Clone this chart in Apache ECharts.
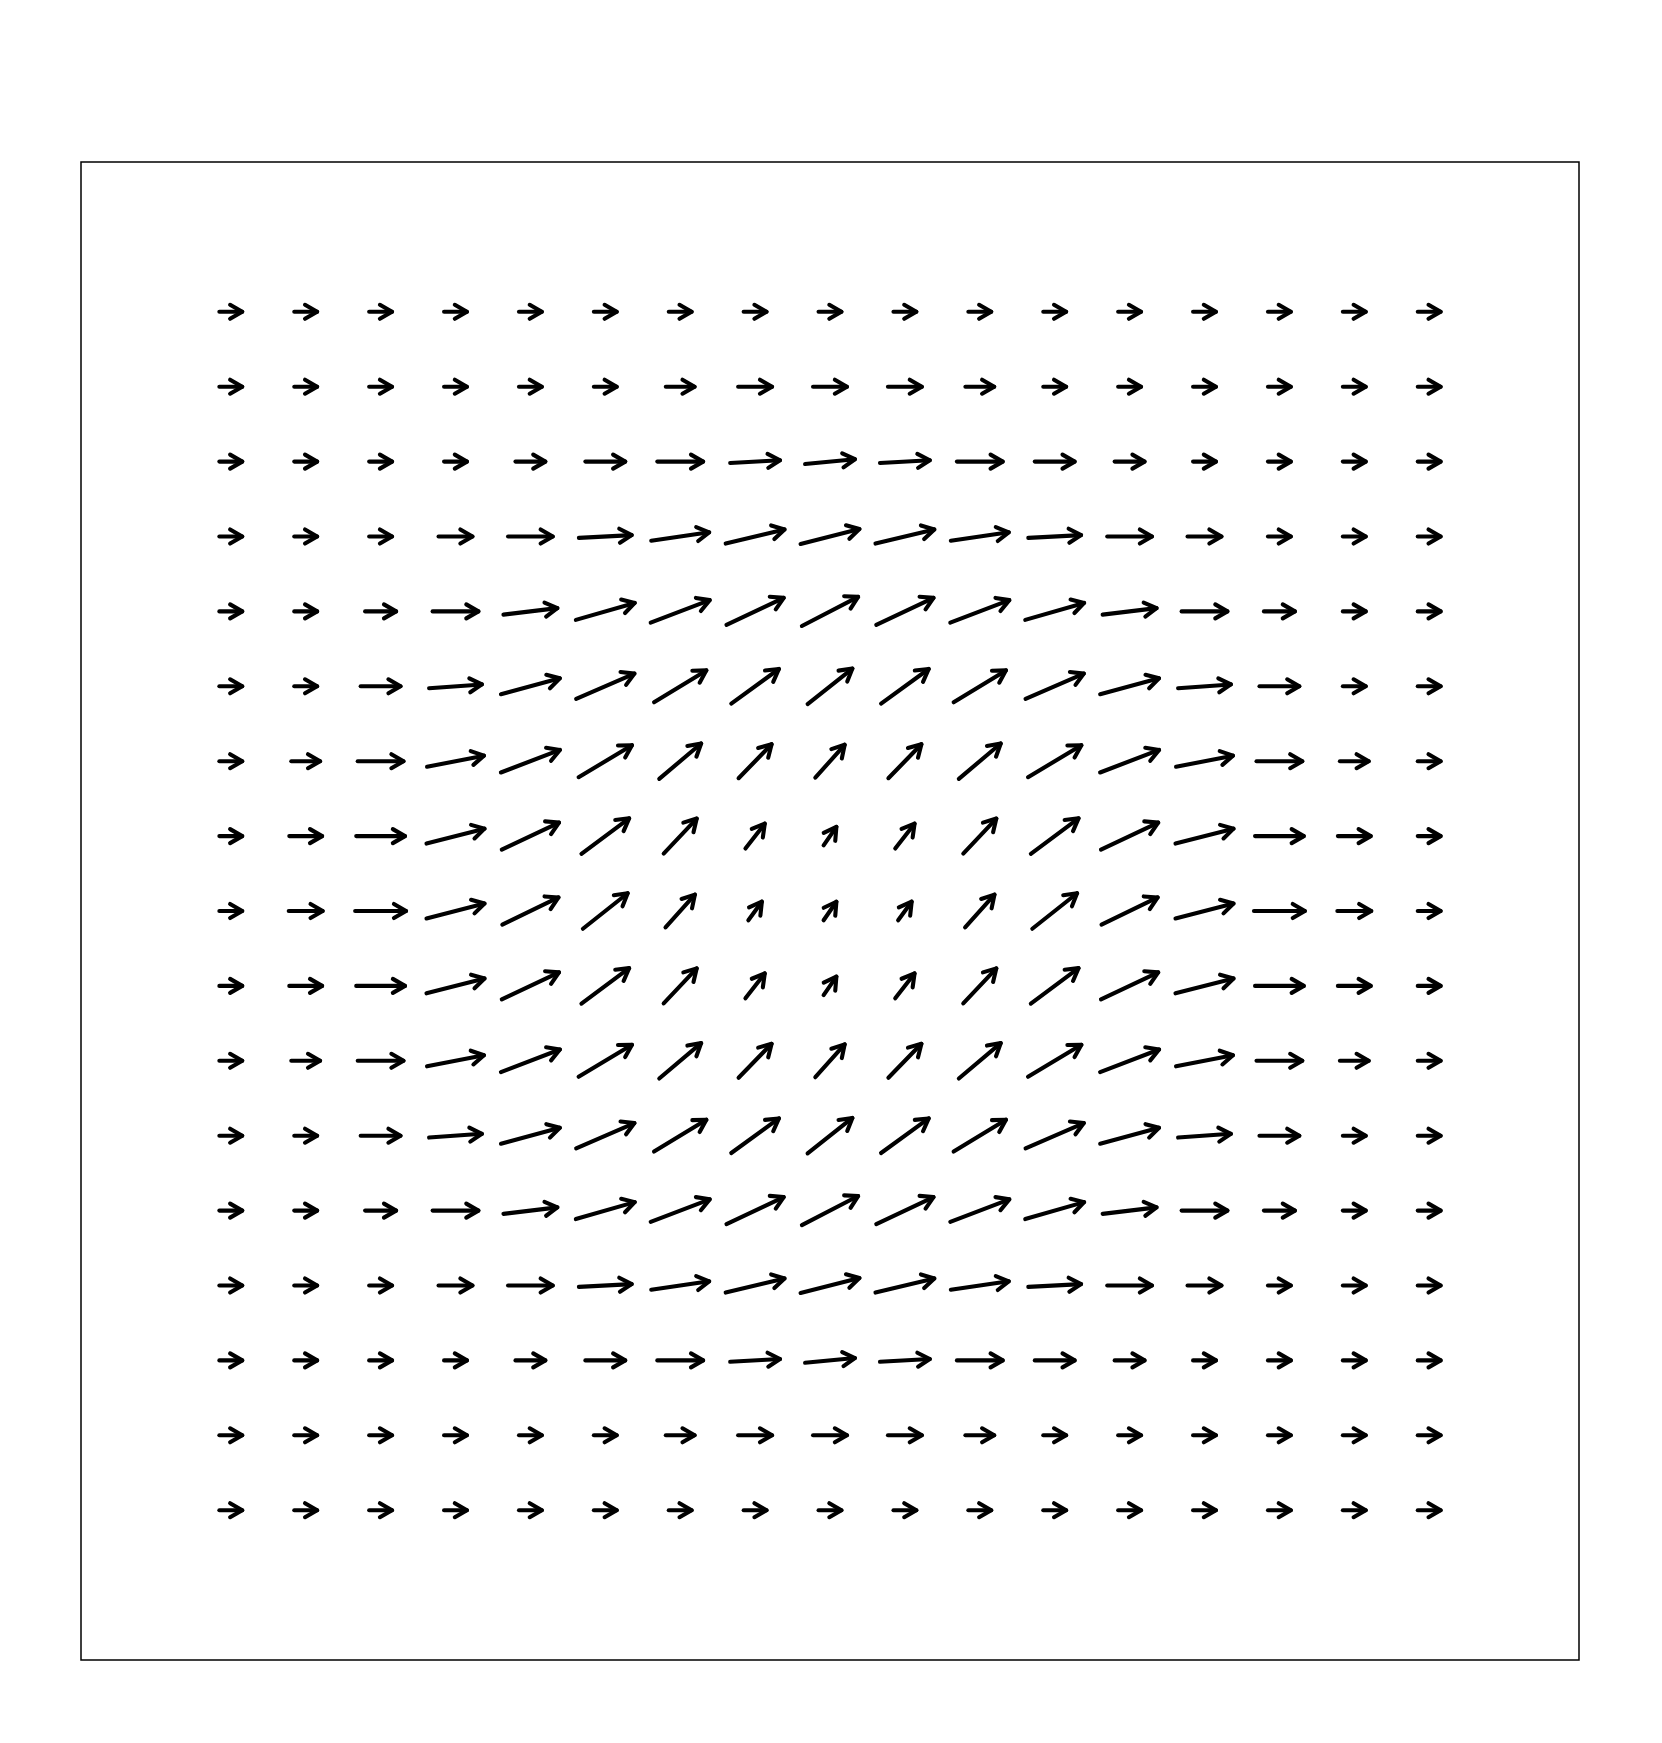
<!DOCTYPE html>
<html>
<head>
<meta charset="utf-8">
<script src="https://cdn.jsdelivr.net/npm/echarts@6/dist/echarts.min.js"></script>
<style>
  html, body { margin: 0; padding: 0; background: #fff; }
  #chart { width: 1662px; height: 1743px; }
</style>
</head>
<body>
<div id="chart"></div>
<script>
// Grid indices (columns left->right, rows top->bottom)
const colIndex = [0,1,2,3,4,5,6,7,8,9,10,11,12,13,14,15,16];
const rowIndex = [0,1,2,3,4,5,6,7,8,9,10,11,12,13,14,15,16];

// Horizontal component u (row by row, top row first)
const uRows = [
  [1,1,1,1,1,1,1,1,1,1,1,1,1,1,1,1,1],
  [1,1,1,1,1,1,1.22,1.41,1.41,1.41,1.22,1,1,1,1,1,1],
  [1,1,1,1,1.26,1.63,1.85,2.0,2.0,2.0,1.85,1.63,1.26,1,1,1,1],
  [1,1,1,1.41,1.81,2.11,2.3,2.33,2.33,2.33,2.3,2.11,1.81,1.41,1,1,1],
  [1,1,1.3,1.85,2.15,2.33,2.33,2.26,2.22,2.26,2.33,2.33,2.15,1.85,1.3,1,1],
  [1,1,1.63,2.11,2.33,2.3,2.07,1.89,1.78,1.89,2.07,2.3,2.33,2.11,1.63,1,1],
  [1,1.22,1.85,2.26,2.33,2.11,1.67,1.33,1.19,1.33,1.67,2.11,2.33,2.26,1.85,1.22,1],
  [1,1.37,1.96,2.3,2.26,1.89,1.33,0.81,0.56,0.81,1.33,1.89,2.26,2.3,1.96,1.37,1],
  [1,1.41,2.04,2.3,2.22,1.78,1.19,0.59,0.56,0.59,1.19,1.78,2.22,2.3,2.04,1.41,1],
  [1,1.37,1.96,2.3,2.26,1.89,1.33,0.81,0.56,0.81,1.33,1.89,2.26,2.3,1.96,1.37,1],
  [1,1.22,1.85,2.26,2.33,2.11,1.67,1.33,1.19,1.33,1.67,2.11,2.33,2.26,1.85,1.22,1],
  [1,1,1.63,2.11,2.33,2.3,2.07,1.89,1.78,1.89,2.07,2.3,2.33,2.11,1.63,1,1],
  [1,1,1.3,1.85,2.15,2.33,2.33,2.26,2.22,2.26,2.33,2.33,2.15,1.85,1.3,1,1],
  [1,1,1,1.41,1.81,2.11,2.3,2.33,2.33,2.33,2.3,2.11,1.81,1.41,1,1,1],
  [1,1,1,1,1.26,1.63,1.85,2.0,2.0,2.0,1.85,1.63,1.26,1,1,1,1],
  [1,1,1,1,1,1,1.22,1.41,1.41,1.41,1.22,1,1,1,1,1,1],
  [1,1,1,1,1,1,1,1,1,1,1,1,1,1,1,1,1]
];

// Vertical component v (positive = up)
const vRows = [
  [0,0,0,0,0,0,0,0,0,0,0,0,0,0,0,0,0],
  [0,0,0,0,0,0,0,0,0,0,0,0,0,0,0,0,0],
  [0,0,0,0,0,0,0,0.11,0.19,0.11,0,0,0,0,0,0,0],
  [0,0,0,0,0,0.11,0.33,0.56,0.59,0.56,0.33,0.11,0,0,0,0,0],
  [0,0,0,0,0.26,0.67,0.89,1.07,1.15,1.07,0.89,0.67,0.26,0,0,0,0],
  [0,0,0,0.15,0.63,1.0,1.26,1.37,1.41,1.37,1.26,1.0,0.63,0.15,0,0,0],
  [0,0,0,0.44,0.89,1.26,1.41,1.37,1.33,1.37,1.41,1.26,0.89,0.44,0,0,0],
  [0,0,0,0.59,1.07,1.41,1.41,1.04,0.81,1.04,1.41,1.41,1.07,0.59,0,0,0],
  [0,0,0,0.59,1.07,1.41,1.33,0.81,0.81,0.81,1.33,1.41,1.07,0.59,0,0,0],
  [0,0,0,0.59,1.07,1.41,1.41,1.04,0.81,1.04,1.41,1.41,1.07,0.59,0,0,0],
  [0,0,0,0.44,0.89,1.26,1.41,1.37,1.33,1.37,1.41,1.26,0.89,0.44,0,0,0],
  [0,0,0,0.15,0.63,1.0,1.26,1.37,1.41,1.37,1.26,1.0,0.63,0.15,0,0,0],
  [0,0,0,0,0.26,0.67,0.89,1.07,1.15,1.07,0.89,0.67,0.26,0,0,0,0],
  [0,0,0,0,0,0.11,0.33,0.56,0.59,0.56,0.33,0.11,0,0,0,0,0],
  [0,0,0,0,0,0,0,0.11,0.19,0.11,0,0,0,0,0,0,0],
  [0,0,0,0,0,0,0,0,0,0,0,0,0,0,0,0,0],
  [0,0,0,0,0,0,0,0,0,0,0,0,0,0,0,0,0]
];

const ARROW_SCALE = 0.36;   // data units of arrow length per unit of vector
const LW = 4.1;
const HEAD = 14;
const HEAD_ANGLE = Math.PI / 6;

const data = [];
rowIndex.forEach(function (r) {
  colIndex.forEach(function (c) {
    data.push([c, 16 - r, uRows[r][c], vRows[r][c]]);
  });
});

const chart = echarts.init(document.getElementById('chart'), null, { renderer: 'canvas' });
chart.setOption({
  animation: false,
  backgroundColor: '#ffffff',
  grid: {
    show: true, left: 81, top: 162, width: 1498, height: 1498,
    borderColor: '#000', borderWidth: 1.5, backgroundColor: 'transparent'
  },
  xAxis: { type: 'value', min: -2, max: 18, show: false },
  yAxis: { type: 'value', min: -2, max: 18, show: false },
  series: [{
    type: 'custom',
    data: data,
    clip: false,
    renderItem: function (params, api) {
      const x = api.value(0), y = api.value(1), u = api.value(2), v = api.value(3);
      const k = ARROW_SCALE;
      const p0 = api.coord([x - u * k / 2, y - v * k / 2]);
      const p1 = api.coord([x + u * k / 2, y + v * k / 2]);
      const dx = p1[0] - p0[0], dy = p1[1] - p0[1];
      const L = Math.hypot(dx, dy) || 1;
      const ux = dx / L, uy = dy / L;
      const t = LW / 2;
      const a = [p0[0] + ux * t, p0[1] + uy * t];
      const b = [p1[0] - ux * t, p1[1] - uy * t];
      const bx = -ux, by = -uy;
      const c1 = Math.cos(HEAD_ANGLE), s1 = Math.sin(HEAD_ANGLE);
      const h1 = [b[0] + HEAD * (bx * c1 - by * s1), b[1] + HEAD * (bx * s1 + by * c1)];
      const h2 = [b[0] + HEAD * (bx * c1 + by * s1), b[1] + HEAD * (-bx * s1 + by * c1)];
      const style = { stroke: '#000', lineWidth: LW, lineCap: 'round', lineJoin: 'round', fill: null };
      return {
        type: 'group',
        children: [
          { type: 'polyline', shape: { points: [a, b] }, style: style },
          { type: 'polyline', shape: { points: [h1, b, h2] }, style: style }
        ]
      };
    }
  }]
});
</script>
</body>
</html>
